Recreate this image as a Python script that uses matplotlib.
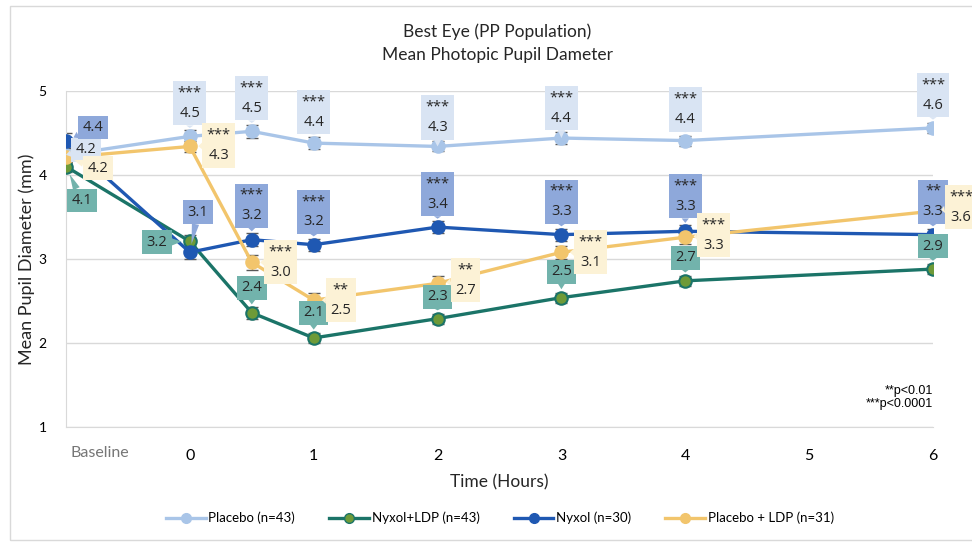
import matplotlib
matplotlib.use("Agg")
from matplotlib import pyplot as plt
from matplotlib.patches import Rectangle
from matplotlib.lines import Line2D

plt.rcParams['font.family'] = ['Lato', 'DejaVu Sans']

# data
hours = [-1, 0, 0.5, 1, 2, 3, 4, 6]   # -1 = baseline
tick_hours = [0, 1, 2, 3, 4, 5, 6]
tick_labels = ['0', '1', '2', '3', '4', '5', '6']

placebo = [4.24, 4.46, 4.52, 4.38, 4.34, 4.44, 4.41, 4.56]
nyxol_ldp = [4.10, 3.21, 2.36, 2.06, 2.29, 2.54, 2.74, 2.88]
nyxol = [4.40, 3.08, 3.23, 3.17, 3.38, 3.29, 3.33, 3.29]
placebo_ldp = [4.21, 4.34, 2.96, 2.51, 2.71, 3.08, 3.26, 3.57]

placebo_err = [0.08, 0.08, 0.08, 0.07, 0.06, 0.07, 0.06, 0.06]
nyxol_ldp_err = [0.06, 0.07, 0.07, 0.06, 0.06, 0.06, 0.06, 0.06]
nyxol_err = [0.1, 0.08, 0.08, 0.07, 0.07, 0.07, 0.07, 0.07]
placebo_ldp_err = [0.07, 0.07, 0.09, 0.09, 0.09, 0.08, 0.08, 0.08]

placebo_sig = ['', '***', '***', '***', '***', '***', '***', '***']
nyxol_ldp_sig = ['', '', '', '', '', '', '', '']
nyxol_sig = ['', '', '***', '***', '***', '***', '***', '**']
placebo_ldp_sig = ['', '***', '***', '**', '**', '***', '***', '***']

names = ['Placebo (n=43)', 'Nyxol+LDP (n=43)', 'Nyxol (n=30)', 'Placebo + LDP (n=31)']

# label offsets in pixels (dx, dy up)
placebo_off = [(20, 5), (0, 33), (0, 33), (0, 31), (0, 29), (0, 30), (0, 31), (0, 33)]
nyxol_ldp_off = [(16, -34), (-33, -1), (0, 25), (0, 25), (0, 22), (0, 26), (0, 23), (0, 23)]
nyxol_off = [(27, 14), (8, 40), (0, 34), (0, 33), (0, 33), (0, 33), (0, 35), (0, 33)]
placebo_ldp_off = [(32, -11), (29, 1), (29, 0), (27, 0), (28, 3), (29, 0), (28, 2), (28, 4)]

c_placebo = '#A9C5E8'
c_nl_line = '#1B7468'
c_nl_face = '#6E9A38'
c_nyxol = '#1F58B2'
c_pl = '#F2C56C'

fig = plt.figure(figsize=(9.72, 5.43), dpi=100)
ax = fig.add_axes([66 / 972, 1 - 427 / 543, (933 - 66) / 972, (427 - 91) / 543])

# chart area border
fig.patches.append(Rectangle((10 / 972, 3 / 543), 1.0, 534 / 543,
                             transform=fig.transFigure, fill=False,
                             ec='#D9D9D9', lw=1.0))

series = [
    (placebo, placebo_err, c_placebo, c_placebo, c_placebo, placebo_sig, placebo_off, '#D9E4F3'),
    (nyxol_ldp, nyxol_ldp_err, c_nl_line, c_nl_face, c_nl_line, nyxol_ldp_sig, nyxol_ldp_off, '#72B3AC'),
    (nyxol, nyxol_err, c_nyxol, c_nyxol, c_nyxol, nyxol_sig, nyxol_off, '#8EA8DA'),
    (placebo_ldp, placebo_ldp_err, c_pl, c_pl, c_pl, placebo_ldp_sig, placebo_ldp_off, '#FCF2D6'),
]

for vals, err, lc, fc, ec, sig, off, box in series:
    ax.errorbar(hours, vals, yerr=err, fmt='none', ecolor='#595959',
                elinewidth=1.0, capsize=4, capthick=1.0, zorder=2)
    ax.plot(hours, vals, color=lc, lw=2.4, marker='o', ms=9,
            mfc=fc, mec=ec, mew=1.5, zorder=3)

for vals, err, lc, fc, ec, sig, off, box in series:
    for x, v, s, (dx, dy) in zip(hours, vals, sig, off):
        txt = f'{v:.1f}' if not s else f'{s}\n{v:.1f}'
        ax.annotate(txt, xy=(x, v), xytext=(dx, dy), textcoords='offset pixels',
                    ha='center', va='center', fontsize=10.5, color='#262626',
                    linespacing=1.5, family=['Open Sans', 'DejaVu Sans'],
                    bbox=dict(boxstyle='square,pad=0.3', fc=box, ec='none'),
                    arrowprops=dict(arrowstyle='wedge,tail_width=0.5,shrink_factor=0.5',
                                    fc=box, ec='none', shrinkA=0, shrinkB=6),
                    zorder=5, annotation_clip=False)

ax.set_xlim(-1, 6)
ax.set_ylim(1, 5)
ax.set_yticks([1, 2, 3, 4, 5])
ax.set_xticks(tick_hours)
ax.set_xticklabels(tick_labels)
ax.tick_params(axis='x', length=0, pad=16, labelsize=11.5, colors='#000000')
ax.tick_params(axis='y', length=0, pad=14, labelsize=10, colors='#000000')
ax.grid(axis='y', color='#D9D9D9', lw=1.0)
ax.set_axisbelow(True)
for sp in ['top', 'right']:
    ax.spines[sp].set_visible(False)
for sp in ['left', 'bottom']:
    ax.spines[sp].set_color('#D9D9D9')

ax.text(-0.73, 0.69, 'Baseline', ha='center', va='center',
        fontsize=11.5, color='#767676', clip_on=False)

ax.set_xlabel('Time (Hours)', fontsize=12.5, labelpad=8, color='#262626')
fig.text(27 / 972, 1 - 259 / 543, 'Mean Pupil Diameter (mm)', rotation=90,
         ha='center', va='center', fontsize=13, color='#262626')
fig.text(497 / 972, 1 - 43 / 543, 'Best Eye (PP Population)\nMean Photopic Pupil Dameter',
         ha='center', va='center', fontsize=12.5, color='#262626', linespacing=1.55)

ax.text(6, 1.35, '**p<0.01\n***p<0.0001', ha='right', va='center',
        fontsize=9, color='#000000', family=['Liberation Sans', 'DejaVu Sans'])

handles = [
    Line2D([], [], color=c_placebo, lw=2.4, marker='o', ms=7, mfc=c_placebo, mec=c_placebo),
    Line2D([], [], color=c_nl_line, lw=2.4, marker='o', ms=7, mfc=c_nl_face, mec=c_nl_line),
    Line2D([], [], color=c_nyxol, lw=2.4, marker='o', ms=7, mfc=c_nyxol, mec=c_nyxol),
    Line2D([], [], color=c_pl, lw=2.4, marker='o', ms=7, mfc=c_pl, mec=c_pl),
]
fig.legend(handles, names, loc='center', bbox_to_anchor=(500 / 972, 1 - 518 / 543),
           ncol=4, frameon=False, fontsize=9.5, handlelength=3, handletextpad=0.2,
           columnspacing=2.6)

fig.savefig('out.png', dpi=100)
